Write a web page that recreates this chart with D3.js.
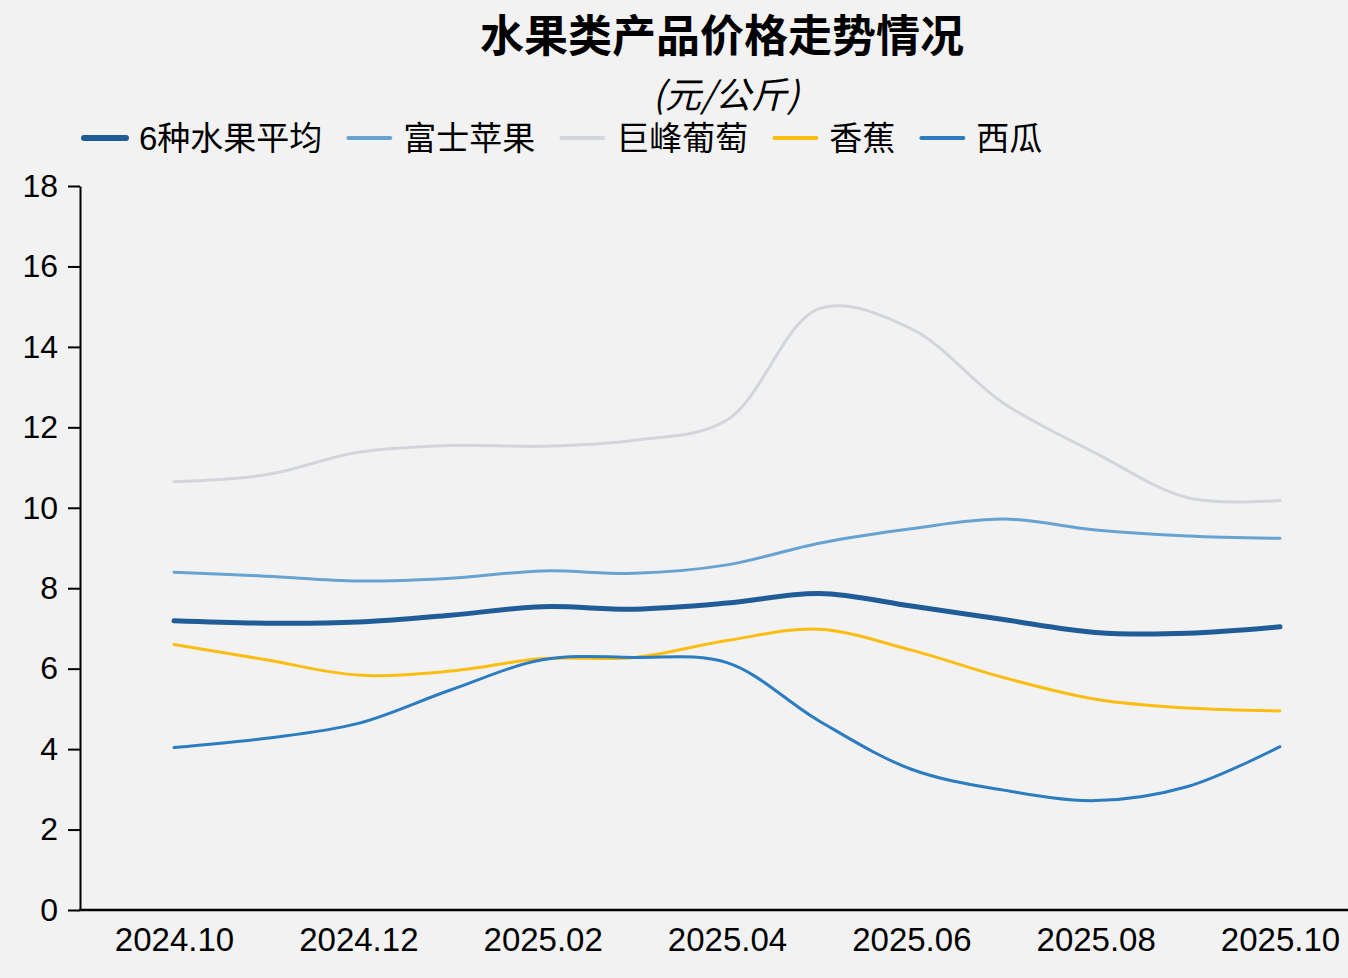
<!DOCTYPE html>
<html>
<head>
<meta charset="utf-8">
<script src="https://cdn.jsdelivr.net/npm/d3@7/dist/d3.min.js"></script>
<style>
  body { margin: 0; background: #f2f2f2; }
  svg { display: block; }
  text { font-family: "Liberation Sans", Arial, "Noto Sans CJK SC", sans-serif; fill: #000; }
</style>
</head>
<body>
<div class="chart"></div>
<script>
var months = ["2024.10", "2024.11", "2024.12", "2025.01", "2025.02", "2025.03", "2025.04",
              "2025.05", "2025.06", "2025.07", "2025.08", "2025.09", "2025.10"];
var tickLabels = ["2024.10", "2024.12", "2025.02", "2025.04", "2025.06", "2025.08", "2025.10"];
var yTicks = [0, 2, 4, 6, 8, 10, 12, 14, 16, 18];

var seriesNames = ["6种水果平均", "富士苹果", "巨峰葡萄", "香蕉", "西瓜"];
var avgValues = [7.19, 7.13, 7.16, 7.33, 7.54, 7.48, 7.63, 7.87, 7.56, 7.22, 6.9, 6.88, 7.04];
var appleValues = [8.4, 8.3, 8.18, 8.25, 8.43, 8.37, 8.58, 9.12, 9.48, 9.72, 9.45, 9.3, 9.24];
var grapeValues = [10.65, 10.82, 11.38, 11.55, 11.53, 11.68, 12.18, 14.95, 14.45, 12.6, 11.36, 10.25, 10.18];
var bananaValues = [6.6, 6.22, 5.84, 5.94, 6.25, 6.28, 6.7, 6.98, 6.46, 5.78, 5.24, 5.02, 4.95];
var melonValues = [4.04, 4.27, 4.64, 5.47, 6.22, 6.28, 6.15, 4.7, 3.5, 2.98, 2.72, 3.07, 4.06];

var colors = ["#1f5c98", "#66a3d2", "#d2d6dc", "#fcbd11", "#2b7cc0"];
var widths = [5, 3, 3, 3, 3];
var allValues = [avgValues, appleValues, grapeValues, bananaValues, melonValues];

var svgWidth = 1348;
var svgHeight = 978;

var svg = d3.select(".chart")
  .append("svg")
  .attr("width", svgWidth)
  .attr("height", svgHeight);

svg.append("rect")
  .attr("width", svgWidth)
  .attr("height", svgHeight)
  .attr("fill", "#f2f2f2");

var xScale = d3.scalePoint()
  .domain(months)
  .range([174, 1280]);

var yScale = d3.scaleLinear()
  .domain([0, 18])
  .range([910, 186]);

// title
svg.append("text")
  .attr("x", 722)
  .attr("y", 52)
  .attr("text-anchor", "middle")
  .style("font-family", "'Noto Sans CJK SC', sans-serif")
  .style("font-weight", "bold")
  .style("font-size", "44px")
  .text("水果类产品价格走势情况");

svg.append("text")
  .attr("x", 726)
  .attr("y", 108)
  .attr("text-anchor", "middle")
  .style("font-family", "'Noto Sans CJK SC', sans-serif")
  .style("font-style", "italic")
  .style("font-size", "36px")
  .text("(元/公斤)");

// y axis
var leftAxis = d3.axisLeft(yScale)
  .tickValues(yTicks)
  .tickSize(12)
  .tickPadding(10)
  .tickSizeOuter(0);

var yAxis = svg.append("g")
  .attr("transform", "translate(80, 0)")
  .call(leftAxis);
yAxis.selectAll("path, line").attr("stroke", "#000").attr("stroke-width", 2);
yAxis.selectAll("text").style("font-size", "32px").attr("fill", "#000");

// x axis
var bottomAxis = d3.axisBottom(xScale)
  .tickValues(tickLabels)
  .tickSize(0)
  .tickPadding(18);

var xAxis = svg.append("g")
  .attr("transform", "translate(0, 910)")
  .call(bottomAxis);
xAxis.select(".domain").remove();
xAxis.selectAll("text").style("font-size", "33px").attr("fill", "#000");

svg.append("line")
  .attr("x1", 79)
  .attr("x2", svgWidth)
  .attr("y1", 910)
  .attr("y2", 910)
  .attr("stroke", "#000")
  .attr("stroke-width", 2.5);

// lines
var line = d3.line()
  .x(function(d, i) { return xScale(months[i]); })
  .y(function(d) { return yScale(d); })
  .curve(d3.curveCatmullRom.alpha(0.5));

var drawOrder = [2, 1, 3, 4, 0];
drawOrder.forEach(function(k) {
  svg.append("path")
    .datum(allValues[k])
    .attr("d", line)
    .attr("fill", "none")
    .attr("stroke", colors[k])
    .attr("stroke-width", widths[k])
    .attr("stroke-linecap", "round");
});

// legend
var legendX = 84;
seriesNames.forEach(function(name, i) {
  var g = svg.append("g");
  g.append("line")
    .attr("x1", legendX)
    .attr("x2", legendX + 42)
    .attr("y1", 138)
    .attr("y2", 138)
    .attr("stroke", colors[i])
    .attr("stroke-width", widths[i] + 1)
    .attr("stroke-linecap", "round");
  var t = g.append("text")
    .attr("x", legendX + 55)
    .attr("y", 150)
    .style("font-size", "33px")
    .text(name);
  legendX += 55 + t.node().getComputedTextLength() + 26;
});
</script>
</body>
</html>
